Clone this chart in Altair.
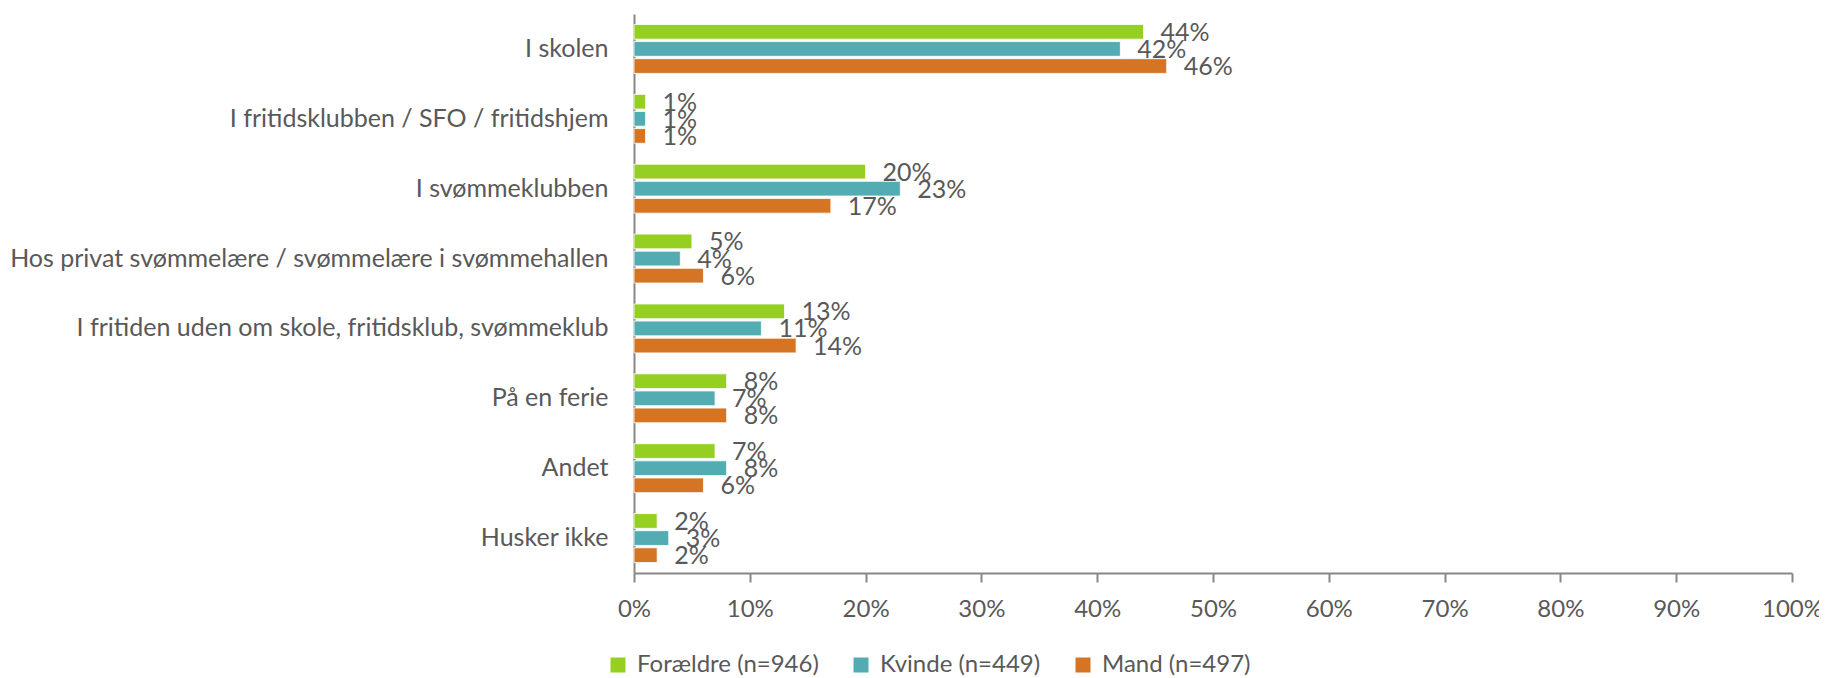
import altair as alt
import pandas as pd

categories = [
    "I skolen",
    "I fritidsklubben / SFO / fritidshjem",
    "I svømmeklubben",
    "Hos privat svømmelære / svømmelære i svømmehallen",
    "I fritiden uden om skole, fritidsklub, svømmeklub",
    "På en ferie",
    "Andet",
    "Husker ikke",
]
series = ["Forældre (n=946)", "Kvinde (n=449)", "Mand (n=497)"]
foraeldre = [44, 1, 20, 5, 13, 8, 7, 2]
kvinde = [42, 1, 23, 4, 11, 7, 8, 3]
mand = [46, 1, 17, 6, 14, 8, 6, 2]
colors = ["#95CF22", "#52ACB1", "#D57524"]
x_ticks = [0, 10, 20, 30, 40, 50, 60, 70, 80, 90, 100]

FONT = "Lato"
FS = 25
TXT = "#595959"
AX = "#878787"

rows = []
for s, vals in zip(series, [foraeldre, kvinde, mand]):
    for c, v in zip(categories, vals):
        rows.append({"category": c, "series": s, "value": v / 100, "label": f"{v}%"})
df = pd.DataFrame(rows)

base = alt.Chart(df).encode(
    y=alt.Y(
        "category:N",
        sort=categories,
        scale=alt.Scale(paddingInner=0.3, paddingOuter=0.15),
        axis=alt.Axis(
            title=None, ticks=False, labelPadding=26, labelFontSize=FS,
            labelColor=TXT, labelFont=FONT, domainColor=AX, domainWidth=2,
            labelLimit=0,
        ),
    ),
    yOffset=alt.YOffset("series:N", sort=series, scale=alt.Scale(paddingInner=0.14, paddingOuter=0)),
)

bars = base.mark_bar(stroke="white", strokeWidth=0.8).encode(
    x=alt.X(
        "value:Q",
        scale=alt.Scale(domain=[0, 1], nice=False),
        axis=alt.Axis(
            title=None, format=".0%", values=[t / 100 for t in x_ticks], grid=False,
            domainColor=AX, domainWidth=2, tickColor=AX, tickWidth=2, tickSize=9,
            labelFontSize=24, labelColor=TXT, labelFont=FONT, labelPadding=15,
            labelFlush=False,
        ),
    ),
    color=alt.Color(
        "series:N", sort=series,
        scale=alt.Scale(domain=series, range=colors),
        legend=alt.Legend(
            title=None, orient="none", legendX=-28, legendY=639, direction="horizontal",
            symbolType="square", symbolSize=225, symbolStrokeWidth=0, symbolOpacity=1,
            labelFontSize=24, labelColor=TXT, labelFont=FONT, labelOffset=7,
            columnPadding=30, labelLimit=0, padding=0,
        ),
    ),
)

text = base.mark_text(align="left", baseline="middle", dx=17, dy=1, fontSize=FS, font=FONT, color=TXT).encode(
    x=alt.X("value:Q"),
    text="label:N",
)

chart = (
    alt.layer(bars, text)
    .properties(
        width=1158, height=559,
        autosize=alt.AutoSizeParams(type="none"),
        padding={"left": 626, "top": 6, "right": 27, "bottom": 103},
    )
    .configure_view(stroke=None)
)

chart.save("out.html", embed_options={"renderer": "svg", "actions": False})
